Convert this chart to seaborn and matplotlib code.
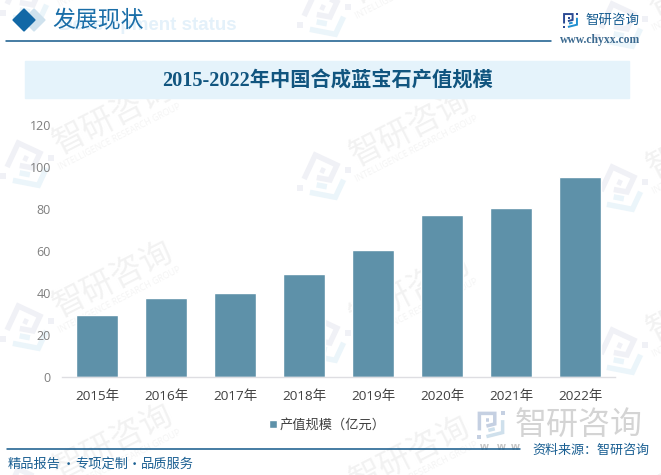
import matplotlib
matplotlib.use("Agg")
import matplotlib.pyplot as plt
import matplotlib.patches as mpatches
import numpy as np
import pandas as pd
import seaborn as sns

# data
years = ["2015年", "2016年", "2017年", "2018年", "2019年", "2020年", "2021年", "2022年"]
values = [29.5, 37.6, 40, 49, 60.5, 77.1, 80.5, 95.2]
y_ticks = [0, 20, 40, 60, 80, 100, 120]
series_name = "产值规模（亿元）"
chart_title = "2015-2022年中国合成蓝宝石产值规模"

W, H = 661, 475
BAR = "#5e91a9"
NAVY = "#14598a"
SANS = ["Open Sans", "Noto Sans CJK SC", "DejaVu Sans"]
CJK = ["Noto Sans CJK SC", "DejaVu Sans"]

sns.set_theme(style="white")
plt.rcParams["font.family"] = SANS

fig = plt.figure(figsize=(W / 100, H / 100), dpi=100)

# overlay in pixel coordinates for the report furniture
bg = fig.add_axes([0, 0, 1, 1], zorder=0)
bg.set_xlim(0, W)
bg.set_ylim(H, 0)
bg.axis("off")


def draw_logo(a, x, y, size, c1, c2, angle=0, z=1):
    # logo mark built from strokes, x/y is its centre
    t = np.radians(angle)
    rot = np.array([[np.cos(t), np.sin(t)], [-np.sin(t), np.cos(t)]])
    dark = [[(-.43, .2), (-.43, -.43), (.14, -.43), (.14, -.04), (-.17, .04)],
            [(-.17, -.17), (-.06, -.17)]]
    light = [[(.43, -.18), (.43, .28), (-.17, .43)],
             [(.14, .14), (-.1, .2)]]
    lw = size * 0.13 * 0.72
    for stroke in dark:
        p = (np.array(stroke) * size) @ rot + [x, y]
        a.plot(p[:, 0], p[:, 1], color=c1, lw=lw, solid_joinstyle="miter", solid_capstyle="butt", zorder=z)
    for stroke in light:
        p = (np.array(stroke) * size) @ rot + [x, y]
        a.plot(p[:, 0], p[:, 1], color=c2, lw=lw, solid_joinstyle="miter", solid_capstyle="butt", zorder=z)
    dots = (np.array([(-.43, .43), (.43, -.43)]) * size) @ rot + [x, y]
    a.plot(dots[:, 0], dots[:, 1], "s", color=c1, ms=size * .1, mew=0, zorder=z)


# repeated watermark: logo + rotated company name
for col in range(-1, 3):
    for row in range(-1, 3):
        ox = 297 * col
        oy = 163 * row + 12 * col
        draw_logo(bg, 27 + ox, 167 + oy, 42, "#f0f1f6", "#ebf5fa", angle=25)
        bg.text(113 + ox, 117 + oy, "智研咨询", family=CJK, fontsize=23.5, color="#f2f2f2",
                rotation=27, ha="center", va="center", zorder=1, clip_on=True)
        bg.text(120 + ox, 137 + oy, "INTELLIGENCE RESEARCH GROUP", fontsize=6.3, color="#f4f4f4",
                rotation=27, ha="center", va="center", zorder=1, clip_on=True)

# header
bg.text(237, 25.5, "Development status", fontsize=13.5, weight="bold", color="#e4f1fa",
        family="Liberation Sans", ha="right", va="center", zorder=2)
bg.add_patch(mpatches.RegularPolygon((34, 20), 4, radius=11, color="#cfe2ee", zorder=3))
bg.add_patch(mpatches.RegularPolygon((24, 20), 4, radius=11, color="#1268a6", zorder=3))
bg.text(52, 20, "发展现状", family=CJK, fontsize=16.5, color="#1a6ea8", va="center", zorder=4)
bg.plot([6, 551], [41, 41], color=NAVY, lw=1.1, zorder=3)
draw_logo(bg, 570.5, 20.5, 15, "#2b4a94", "#1f8fd0", z=3)
bg.text(585, 20, "智研咨询", family=CJK, fontsize=9.7, color="#1a5f92", va="center", zorder=3)
bg.text(600.5, 40, "www.chyxx.com", family="Liberation Serif", weight="bold", fontsize=8.4,
        color="#3c6a90", ha="center", va="center", zorder=3)

# title band
bg.add_patch(mpatches.Rectangle((25, 61), 604, 37, color="#e5f3fb", zorder=2))
bg.text(327.5, 82, chart_title, family=["Liberation Serif", "Noto Sans CJK SC"], weight="bold",
        fontsize=14.6, color="#11557f", ha="center", va="center", zorder=3)

# footer
draw_logo(bg, 491, 425, 27, "#c5d0e2", "#cfe0ec", z=2)
bg.text(578.5, 425, "智研咨询", family=CJK, fontsize=23, color="#d4d4d4", ha="center", va="center", zorder=2)
for wx in [484, 501, 515]:
    bg.text(wx, 447.5, "w", fontsize=7.5, weight="bold", color="#c4c4c4", ha="center", va="center", zorder=2)
bg.plot([7, 520], [449, 449], color=NAVY, lw=1.1, zorder=3)
for fx, part in [(8, "精品报告"), (75, "专项定制"), (141, "品质服务")]:
    bg.text(fx, 464.5, part, family=CJK, fontsize=9.5, color="#1a5f92", va="center", zorder=3)
for fx in [68, 134.5]:
    bg.text(fx, 464.5, "·", family=CJK, fontsize=9.5, color="#1a5f92", ha="center", va="center", zorder=3)
bg.text(532.5, 450.5, "资料来源：智研咨询", family=CJK, fontsize=9.4, color="#1a5f92", va="center", zorder=3)

# chart
ax = fig.add_axes([62.5 / W, 1 - 376.6 / H, 552 / W, 252 / H], zorder=2)
ax.patch.set_alpha(0)
df = pd.DataFrame({"year": years, "value": values})
sns.barplot(data=df, x="year", y="value", color=BAR, saturation=1, width=0.6, ax=ax, label=series_name)
ax.set_xlim(-0.5, len(years) - 0.5)
ax.set_ylim(0, 120)
ax.set_yticks(y_ticks)
ax.set_xlabel("")
ax.set_ylabel("")
ax.tick_params(axis="x", length=0, pad=10, labelsize=9.7, labelcolor="#404040")
ax.tick_params(axis="y", length=0, pad=8.3, labelsize=9, labelcolor="#7f7f7f")
sns.despine(ax=ax, left=True)
ax.spines["bottom"].set_color("#dedee2")
ax.spines["bottom"].set_linewidth(1)

ax.legend(loc="center", bbox_to_anchor=(327.5 / W, 1 - 425 / H), bbox_transform=fig.transFigure,
          frameon=False, prop={"family": CJK, "size": 9.5}, handlelength=0.62, handleheight=0.62,
          handletextpad=0.2, labelcolor="#404040")

fig.savefig("out.png", dpi=100)
